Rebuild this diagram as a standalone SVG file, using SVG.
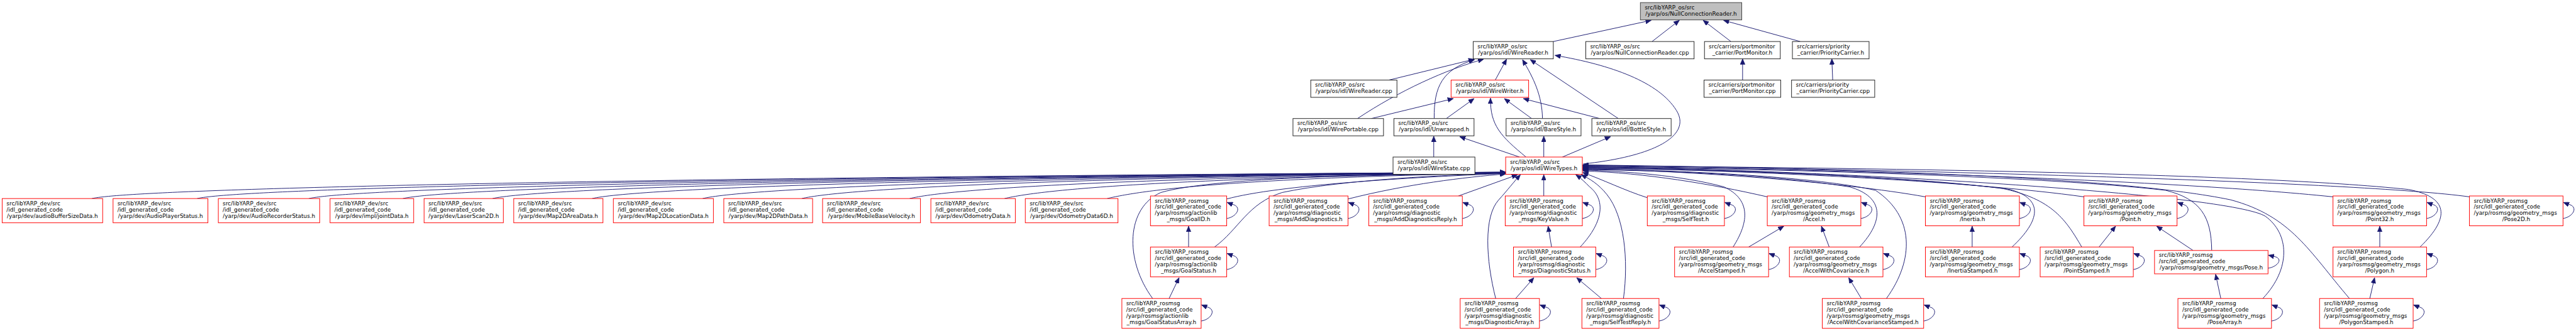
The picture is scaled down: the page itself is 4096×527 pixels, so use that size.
<svg xmlns="http://www.w3.org/2000/svg" width="4096" height="527" viewBox="0 0 4096 527">
<style>
text{font-family:"DejaVu Sans","Liberation Sans",sans-serif;font-size:12.9px;fill:#000}
.m{text-anchor:middle}
.nd rect{fill:#fff;stroke:#202020;stroke-width:1.4}
.rd rect{fill:#fff;stroke:#ff0000;stroke-width:1.4}
.gr rect{fill:#bfbfbf;stroke:#404040;stroke-width:1.4}
.e path{fill:none;stroke:#191970;stroke-width:1.4;marker-end:url(#a)}
</style>
<defs>
<marker id="a" markerUnits="userSpaceOnUse" viewBox="0 0 14 11" markerWidth="14" markerHeight="11" refX="13" refY="5.5" orient="auto"><path d="M0,0 L13,5.5 L0,11 z" fill="#191970" stroke="#191970" stroke-width="1"/></marker>
</defs>
<rect width="4096" height="527" fill="#fff"/>
<g transform="scale(0.68875)">
<g id="edges" class="e">
<!-- top -->
<path d="M3586,96 L3812,47"/>
<path d="M3814,96 L3877,47"/>
<path d="M3996,96 L3932,47"/>
<path d="M4156,96 L3979,47"/>
<path d="M4023,185 L4023,136"/>
<path d="M4231,185 L4229,136"/>
<path d="M3207,185 L3403,137"/>
<path d="M3452,185 L3478,137"/>
<path d="M3134,274 C3230,210 3340,160 3425,137"/>
<path d="M3166,274 L3355,228"/>
<path d="M3311,274 C3310,200 3330,160 3404,138"/>
<path d="M3339,274 L3403,228"/>
<path d="M3523,363 C3465,315 3440,290 3441,227"/>
<path d="M3536,274 L3473,228"/>
<path d="M3561,274 C3560,220 3540,180 3515,138"/>
<path d="M3736,274 L3533,138"/>
<path d="M3693,274 L3517,228"/>
<path d="M3508,363 L3370,316"/>
<path d="M3564,363 L3564,315"/>
<path d="M3607,363 L3718,316"/>
<path d="M3310,363 L3310,315"/>
<path d="M3655,379 C3830,360 3905,310 3870,255 C3830,190 3720,150 3590,128"/>
<!-- dev to WireTypes -->
<path d="M212,459 C302,437 1354,411 3476,398"/>
<path d="M455,459 C545,437 1512,411 3476,398"/>
<path d="M713,459 C803,437 1680,411 3476,398"/>
<path d="M930,459 C1020,437 1821,411 3476,399"/>
<path d="M1137,459 C1227,437 1956,411 3476,399"/>
<path d="M1367,459 C1457,437 2105,411 3476,399"/>
<path d="M1622,459 C1712,437 2271,411 3476,399"/>
<path d="M1851,459 C1941,437 2420,411 3476,399"/>
<path d="M2100,459 C2190,437 2582,411 3476,400"/>
<path d="M2319,459 C2409,437 2724,411 3476,400"/>
<path d="M2556,459 C2646,437 2878,411 3476,400"/>
<!-- rosmsg to WireTypes -->
<path d="M2661,690 C2595,600 2600,480 2680,445 C2800,410 3200,402 3476,399"/>
<path d="M2804,571 C2860,530 2880,470 2960,445 C3100,415 3350,404 3476,400"/>
<path d="M2832,460 C2950,428 3250,410 3476,401"/>
<path d="M3112,460 C3250,425 3380,410 3476,402"/>
<path d="M3367,453 L3503,404"/>
<path d="M3453,690 C3430,600 3425,500 3460,462 C3480,440 3495,420 3510,404"/>
<path d="M3564,453 L3564,404"/>
<path d="M3648,571 C3705,510 3705,460 3670,432 C3660,422 3650,412 3638,404"/>
<path d="M3748,690 C3760,600 3750,500 3710,450 C3690,425 3670,413 3650,404"/>
<path d="M3803,457 C3750,440 3700,415 3654,399"/>
<path d="M4080,455 C3950,425 3800,400 3654,395"/>
<path d="M4001,571 C4040,510 4040,460 3980,432 C3880,405 3750,396 3654,393"/>
<path d="M4293,571 C4350,510 4350,455 4270,432 C4100,405 3850,394 3654,392"/>
<path d="M4355,690 C4420,600 4420,500 4330,440 C4200,410 3900,393 3654,391"/>
<path d="M4445,455 C4250,420 3900,395 3654,390"/>
<path d="M4645,571 C4710,510 4720,460 4640,438 C4400,405 3950,392 3654,389"/>
<path d="M4811,455 C4550,418 4000,392 3654,388"/>
<path d="M4806,571 C4770,510 4740,460 4620,435 C4350,405 3950,390 3654,387"/>
<path d="M5106,579 C5105,500 5080,460 5000,440 C4700,405 4000,388 3654,386"/>
<path d="M5224,690 C5290,620 5285,540 5230,500 C5150,450 4300,395 3654,385"/>
<path d="M5386,455 C5000,415 4200,390 3654,384"/>
<path d="M5587,571 C5660,500 5650,455 5560,438 C5200,400 4300,388 3654,383"/>
<path d="M5424,690 C5330,580 5290,500 5150,462 C4900,410 4300,390 3654,382"/>
<path d="M5701,455 C5450,420 4400,392 3654,381"/>
<!-- rosmsg internal -->
<path d="M2744,571 L2744,523"/>
<path d="M2699,690 L2722,642"/>
<path d="M3582,571 L3574,523"/>
<path d="M3499,690 L3541,642"/>
<path d="M3697,690 L3640,642"/>
<path d="M4037,571 L4118,523"/>
<path d="M4223,571 L4205,523"/>
<path d="M4297,690 L4268,642"/>
<path d="M4553,571 L4553,523"/>
<path d="M4846,571 L4884,523"/>
<path d="M5063,579 L4979,523"/>
<path d="M5127,690 L5115,634"/>
<path d="M5494,571 L5494,523"/>
<path d="M5471,690 L5482,642"/>
<!-- self loops: R,T,h -->
<path d="M2832,505 C2848,503 2862,489 2856,479 C2852,473 2846,473 2833,468"/>
<path d="M2832,623 C2848,621 2862,607 2856,597 C2852,591 2846,591 2833,586"/>
<path d="M2773,742 C2789,740 2803,726 2797,716 C2793,710 2787,710 2774,705"/>
<path d="M3112,505 C3128,503 3142,489 3136,479 C3132,473 3126,473 3113,468"/>
<path d="M3376,505 C3392,503 3406,489 3400,479 C3396,473 3390,473 3377,468"/>
<path d="M3653,505 C3669,503 3683,489 3677,479 C3673,473 3667,473 3654,468"/>
<path d="M3684,623 C3700,621 3714,607 3708,597 C3704,591 3698,591 3685,586"/>
<path d="M3554,742 C3570,740 3584,726 3578,716 C3574,710 3568,710 3555,705"/>
<path d="M3830,742 C3846,740 3860,726 3854,716 C3850,710 3844,710 3831,705"/>
<path d="M3981,505 C3997,503 4011,489 4005,479 C4001,473 3995,473 3982,468"/>
<path d="M4296,505 C4312,503 4326,489 4320,479 C4316,473 4310,473 4297,468"/>
<path d="M4083,623 C4099,621 4113,607 4107,597 C4103,591 4097,591 4084,586"/>
<path d="M4347,623 C4363,621 4377,607 4371,597 C4367,591 4361,591 4348,586"/>
<path d="M4441,742 C4457,740 4471,726 4465,716 C4461,710 4455,710 4442,705"/>
<path d="M4662,505 C4678,503 4692,489 4686,479 C4682,473 4676,473 4663,468"/>
<path d="M4662,623 C4678,621 4692,607 4686,597 C4682,591 4676,591 4663,586"/>
<path d="M5026,505 C5042,503 5056,489 5050,479 C5046,473 5040,473 5027,468"/>
<path d="M4925,623 C4941,621 4955,607 4949,597 C4945,591 4939,591 4926,586"/>
<path d="M5236,620 C5252,618 5266,606 5260,598 C5256,593 5250,593 5237,590"/>
<path d="M5244,742 C5260,740 5274,726 5268,716 C5264,710 5258,710 5245,705"/>
<path d="M5602,505 C5618,503 5632,489 5626,479 C5622,473 5616,473 5603,468"/>
<path d="M5602,623 C5618,621 5632,607 5626,597 C5622,591 5616,591 5603,586"/>
<path d="M5571,742 C5587,740 5601,726 5595,716 C5591,710 5585,710 5572,705"/>
<path d="M5917,505 C5933,503 5947,489 5941,479 C5937,473 5931,473 5918,468"/>
</g>
<!-- top nodes -->
<g id="n_root" class="gr"><rect x="3787" y="6" width="234" height="40"/><text x="3797" y="21.25">src/libYARP_os/src</text><text x="3904" y="35.75" class="m">/yarp/os/NullConnectionReader.h</text></g>
<g id="n_wirereader_h" class="nd"><rect x="3401" y="96" width="185" height="40"/><text x="3411" y="111.25">src/libYARP_os/src</text><text x="3493.5" y="125.75" class="m">/yarp/os/idl/WireReader.h</text></g>
<g id="n_nullconn_cpp" class="nd"><rect x="3661" y="96" width="250" height="40"/><text x="3671" y="111.25">src/libYARP_os/src</text><text x="3786" y="125.75" class="m">/yarp/os/NullConnectionReader.cpp</text></g>
<g id="n_portmonitor_h" class="nd"><rect x="3935" y="96" width="175" height="40"/><text x="3945" y="111.25">src/carriers/portmonitor</text><text x="4022.5" y="125.75" class="m">_carrier/PortMonitor.h</text></g>
<g id="n_priority_h" class="nd"><rect x="4138" y="96" width="177" height="40"/><text x="4148" y="111.25">src/carriers/priority</text><text x="4226.5" y="125.75" class="m">_carrier/PriorityCarrier.h</text></g>
<g id="n_wirereader_cpp" class="nd"><rect x="3026" y="185" width="199" height="40"/><text x="3036" y="200.25">src/libYARP_os/src</text><text x="3125.5" y="214.75" class="m">/yarp/os/idl/WireReader.cpp</text></g>
<g id="n_wirewriter_h" class="rd"><rect x="3350" y="185" width="179" height="40"/><text x="3360" y="200.25">src/libYARP_os/src</text><text x="3439.5" y="214.75" class="m">/yarp/os/idl/WireWriter.h</text></g>
<g id="n_portmonitor_cpp" class="nd"><rect x="3934" y="185" width="177" height="40"/><text x="3944" y="200.25">src/carriers/portmonitor</text><text x="4022.5" y="214.75" class="m">_carrier/PortMonitor.cpp</text></g>
<g id="n_priority_cpp" class="nd"><rect x="4136" y="185" width="192" height="40"/><text x="4146" y="200.25">src/carriers/priority</text><text x="4232" y="214.75" class="m">_carrier/PriorityCarrier.cpp</text></g>
<g id="n_wireportable" class="nd"><rect x="2985" y="274" width="209" height="40"/><text x="2995" y="289.25">src/libYARP_os/src</text><text x="3089.5" y="303.75" class="m">/yarp/os/idl/WirePortable.cpp</text></g>
<g id="n_unwrapped" class="nd"><rect x="3218" y="274" width="185" height="40"/><text x="3228" y="289.25">src/libYARP_os/src</text><text x="3310.5" y="303.75" class="m">/yarp/os/idl/Unwrapped.h</text></g>
<g id="n_barestyle" class="nd"><rect x="3477" y="274" width="173" height="40"/><text x="3487" y="289.25">src/libYARP_os/src</text><text x="3563.5" y="303.75" class="m">/yarp/os/idl/BareStyle.h</text></g>
<g id="n_bottlestyle" class="nd"><rect x="3675" y="274" width="183" height="40"/><text x="3685" y="289.25">src/libYARP_os/src</text><text x="3766.5" y="303.75" class="m">/yarp/os/idl/BottleStyle.h</text></g>
<g id="n_wirestate" class="nd"><rect x="3216" y="363" width="189" height="40"/><text x="3226" y="378.25">src/libYARP_os/src</text><text x="3310.5" y="392.75" class="m">/yarp/os/idl/WireState.cpp</text></g>
<g id="n_wiretypes" class="rd"><rect x="3476" y="363" width="177" height="40"/><text x="3486" y="378.25">src/libYARP_os/src</text><text x="3564.5" y="392.75" class="m">/yarp/os/idl/WireTypes.h</text></g>
<!-- dev nodes -->
<g id="n_dev1" class="rd"><rect x="5" y="459" width="232" height="56"/><text x="15" y="475">src/libYARP_dev/src</text><text x="15" y="489.5">/idl_generated_code</text><text x="121" y="504" class="m">/yarp/dev/audioBufferSizeData.h</text></g>
<g id="n_dev2" class="rd"><rect x="261" y="459" width="219" height="56"/><text x="271" y="475">src/libYARP_dev/src</text><text x="271" y="489.5">/idl_generated_code</text><text x="370.5" y="504" class="m">/yarp/dev/AudioPlayerStatus.h</text></g>
<g id="n_dev3" class="rd"><rect x="504" y="459" width="234" height="56"/><text x="514" y="475">src/libYARP_dev/src</text><text x="514" y="489.5">/idl_generated_code</text><text x="621" y="504" class="m">/yarp/dev/AudioRecorderStatus.h</text></g>
<g id="n_dev4" class="rd"><rect x="762" y="459" width="193" height="56"/><text x="772" y="475">src/libYARP_dev/src</text><text x="772" y="489.5">/idl_generated_code</text><text x="858.5" y="504" class="m">/yarp/dev/impl/jointData.h</text></g>
<g id="n_dev5" class="rd"><rect x="979" y="459" width="183" height="56"/><text x="989" y="475">src/libYARP_dev/src</text><text x="989" y="489.5">/idl_generated_code</text><text x="1070.5" y="504" class="m">/yarp/dev/LaserScan2D.h</text></g>
<g id="n_dev6" class="rd"><rect x="1186" y="459" width="206" height="56"/><text x="1196" y="475">src/libYARP_dev/src</text><text x="1196" y="489.5">/idl_generated_code</text><text x="1289" y="504" class="m">/yarp/dev/Map2DAreaData.h</text></g>
<g id="n_dev7" class="rd"><rect x="1416" y="459" width="231" height="56"/><text x="1426" y="475">src/libYARP_dev/src</text><text x="1426" y="489.5">/idl_generated_code</text><text x="1531.5" y="504" class="m">/yarp/dev/Map2DLocationData.h</text></g>
<g id="n_dev8" class="rd"><rect x="1671" y="459" width="205" height="56"/><text x="1681" y="475">src/libYARP_dev/src</text><text x="1681" y="489.5">/idl_generated_code</text><text x="1773.5" y="504" class="m">/yarp/dev/Map2DPathData.h</text></g>
<g id="n_dev9" class="rd"><rect x="1899" y="459" width="226" height="56"/><text x="1909" y="475">src/libYARP_dev/src</text><text x="1909" y="489.5">/idl_generated_code</text><text x="2012" y="504" class="m">/yarp/dev/MobileBaseVelocity.h</text></g>
<g id="n_dev10" class="rd"><rect x="2149" y="459" width="195" height="56"/><text x="2159" y="475">src/libYARP_dev/src</text><text x="2159" y="489.5">/idl_generated_code</text><text x="2246.5" y="504" class="m">/yarp/dev/OdometryData.h</text></g>
<g id="n_dev11" class="rd"><rect x="2367" y="459" width="214" height="56"/><text x="2377" y="475">src/libYARP_dev/src</text><text x="2377" y="489.5">/idl_generated_code</text><text x="2474" y="504" class="m">/yarp/dev/OdometryData6D.h</text></g>
<!-- rosmsg row 6 -->
<g id="n_goalid" class="rd"><rect x="2656" y="453" width="176" height="69"/><text x="2666" y="468.25">src/libYARP_rosmsg</text><text x="2666" y="482.75">/src/idl_generated_code</text><text x="2666" y="497.25">/yarp/rosmsg/actionlib</text><text x="2744" y="511.75" class="m">_msgs/GoalID.h</text></g>
<g id="n_adddiag" class="rd"><rect x="2930" y="453" width="182" height="69"/><text x="2940" y="468.25">src/libYARP_rosmsg</text><text x="2940" y="482.75">/src/idl_generated_code</text><text x="2940" y="497.25">/yarp/rosmsg/diagnostic</text><text x="3021" y="511.75" class="m">_msgs/AddDiagnostics.h</text></g>
<g id="n_adddiagreply" class="rd"><rect x="3160" y="453" width="216" height="69"/><text x="3170" y="468.25">src/libYARP_rosmsg</text><text x="3170" y="482.75">/src/idl_generated_code</text><text x="3170" y="497.25">/yarp/rosmsg/diagnostic</text><text x="3268" y="511.75" class="m">_msgs/AddDiagnosticsReply.h</text></g>
<g id="n_keyvalue" class="rd"><rect x="3475" y="453" width="178" height="69"/><text x="3485" y="468.25">src/libYARP_rosmsg</text><text x="3485" y="482.75">/src/idl_generated_code</text><text x="3485" y="497.25">/yarp/rosmsg/diagnostic</text><text x="3564" y="511.75" class="m">_msgs/KeyValue.h</text></g>
<g id="n_selftest" class="rd"><rect x="3803" y="453" width="178" height="69"/><text x="3813" y="468.25">src/libYARP_rosmsg</text><text x="3813" y="482.75">/src/idl_generated_code</text><text x="3813" y="497.25">/yarp/rosmsg/diagnostic</text><text x="3892" y="511.75" class="m">_msgs/SelfTest.h</text></g>
<g id="n_accel" class="rd"><rect x="4080" y="453" width="216" height="69"/><text x="4090" y="468.25">src/libYARP_rosmsg</text><text x="4090" y="482.75">/src/idl_generated_code</text><text x="4090" y="497.25">/yarp/rosmsg/geometry_msgs</text><text x="4188" y="511.75" class="m">/Accel.h</text></g>
<g id="n_inertia" class="rd"><rect x="4445" y="453" width="217" height="69"/><text x="4455" y="468.25">src/libYARP_rosmsg</text><text x="4455" y="482.75">/src/idl_generated_code</text><text x="4455" y="497.25">/yarp/rosmsg/geometry_msgs</text><text x="4553.5" y="511.75" class="m">/Inertia.h</text></g>
<g id="n_point" class="rd"><rect x="4811" y="453" width="215" height="69"/><text x="4821" y="468.25">src/libYARP_rosmsg</text><text x="4821" y="482.75">/src/idl_generated_code</text><text x="4821" y="497.25">/yarp/rosmsg/geometry_msgs</text><text x="4918.5" y="511.75" class="m">/Point.h</text></g>
<g id="n_point32" class="rd"><rect x="5386" y="453" width="216" height="69"/><text x="5396" y="468.25">src/libYARP_rosmsg</text><text x="5396" y="482.75">/src/idl_generated_code</text><text x="5396" y="497.25">/yarp/rosmsg/geometry_msgs</text><text x="5494" y="511.75" class="m">/Point32.h</text></g>
<g id="n_pose2d" class="rd"><rect x="5701" y="453" width="216" height="69"/><text x="5711" y="468.25">src/libYARP_rosmsg</text><text x="5711" y="482.75">/src/idl_generated_code</text><text x="5711" y="497.25">/yarp/rosmsg/geometry_msgs</text><text x="5809" y="511.75" class="m">/Pose2D.h</text></g>
<!-- rosmsg row 7 -->
<g id="n_goalstatus" class="rd"><rect x="2656" y="571" width="176" height="69"/><text x="2666" y="586.25">src/libYARP_rosmsg</text><text x="2666" y="600.75">/src/idl_generated_code</text><text x="2666" y="615.25">/yarp/rosmsg/actionlib</text><text x="2744" y="629.75" class="m">_msgs/GoalStatus.h</text></g>
<g id="n_diagstatus" class="rd"><rect x="3494" y="571" width="190" height="69"/><text x="3504" y="586.25">src/libYARP_rosmsg</text><text x="3504" y="600.75">/src/idl_generated_code</text><text x="3504" y="615.25">/yarp/rosmsg/diagnostic</text><text x="3589" y="629.75" class="m">_msgs/DiagnosticStatus.h</text></g>
<g id="n_accelstamped" class="rd"><rect x="3866" y="571" width="217" height="69"/><text x="3876" y="586.25">src/libYARP_rosmsg</text><text x="3876" y="600.75">/src/idl_generated_code</text><text x="3876" y="615.25">/yarp/rosmsg/geometry_msgs</text><text x="3974.5" y="629.75" class="m">/AccelStamped.h</text></g>
<g id="n_accelcov" class="rd"><rect x="4131" y="571" width="216" height="69"/><text x="4141" y="586.25">src/libYARP_rosmsg</text><text x="4141" y="600.75">/src/idl_generated_code</text><text x="4141" y="615.25">/yarp/rosmsg/geometry_msgs</text><text x="4239" y="629.75" class="m">/AccelWithCovariance.h</text></g>
<g id="n_inertiastamped" class="rd"><rect x="4445" y="571" width="217" height="69"/><text x="4455" y="586.25">src/libYARP_rosmsg</text><text x="4455" y="600.75">/src/idl_generated_code</text><text x="4455" y="615.25">/yarp/rosmsg/geometry_msgs</text><text x="4553.5" y="629.75" class="m">/InertiaStamped.h</text></g>
<g id="n_pointstamped" class="rd"><rect x="4710" y="571" width="215" height="69"/><text x="4720" y="586.25">src/libYARP_rosmsg</text><text x="4720" y="600.75">/src/idl_generated_code</text><text x="4720" y="615.25">/yarp/rosmsg/geometry_msgs</text><text x="4817.5" y="629.75" class="m">/PointStamped.h</text></g>
<g id="n_pose" class="rd"><rect x="4974" y="579" width="262" height="54"/><text x="4984" y="594">src/libYARP_rosmsg</text><text x="4984" y="608.5">/src/idl_generated_code</text><text x="5105" y="623" class="m">/yarp/rosmsg/geometry_msgs/Pose.h</text></g>
<g id="n_polygon" class="rd"><rect x="5386" y="571" width="216" height="69"/><text x="5396" y="586.25">src/libYARP_rosmsg</text><text x="5396" y="600.75">/src/idl_generated_code</text><text x="5396" y="615.25">/yarp/rosmsg/geometry_msgs</text><text x="5494" y="629.75" class="m">/Polygon.h</text></g>
<!-- rosmsg row 8 -->
<g id="n_goalstatusarray" class="rd"><rect x="2590" y="690" width="183" height="69"/><text x="2600" y="705.25">src/libYARP_rosmsg</text><text x="2600" y="719.75">/src/idl_generated_code</text><text x="2600" y="734.25">/yarp/rosmsg/actionlib</text><text x="2681.5" y="748.75" class="m">_msgs/GoalStatusArray.h</text></g>
<g id="n_diagarray" class="rd"><rect x="3371" y="690" width="183" height="69"/><text x="3381" y="705.25">src/libYARP_rosmsg</text><text x="3381" y="719.75">/src/idl_generated_code</text><text x="3381" y="734.25">/yarp/rosmsg/diagnostic</text><text x="3462.5" y="748.75" class="m">_msgs/DiagnosticArray.h</text></g>
<g id="n_selftestreply" class="rd"><rect x="3652" y="690" width="178" height="69"/><text x="3662" y="705.25">src/libYARP_rosmsg</text><text x="3662" y="719.75">/src/idl_generated_code</text><text x="3662" y="734.25">/yarp/rosmsg/diagnostic</text><text x="3741" y="748.75" class="m">_msgs/SelfTestReply.h</text></g>
<g id="n_accelcovstamped" class="rd"><rect x="4207" y="690" width="234" height="69"/><text x="4217" y="705.25">src/libYARP_rosmsg</text><text x="4217" y="719.75">/src/idl_generated_code</text><text x="4217" y="734.25">/yarp/rosmsg/geometry_msgs</text><text x="4324" y="748.75" class="m">/AccelWithCovarianceStamped.h</text></g>
<g id="n_posearray" class="rd"><rect x="5028" y="690" width="216" height="69"/><text x="5038" y="705.25">src/libYARP_rosmsg</text><text x="5038" y="719.75">/src/idl_generated_code</text><text x="5038" y="734.25">/yarp/rosmsg/geometry_msgs</text><text x="5136" y="748.75" class="m">/PoseArray.h</text></g>
<g id="n_polygonstamped" class="rd"><rect x="5355" y="690" width="216" height="69"/><text x="5365" y="705.25">src/libYARP_rosmsg</text><text x="5365" y="719.75">/src/idl_generated_code</text><text x="5365" y="734.25">/yarp/rosmsg/geometry_msgs</text><text x="5463" y="748.75" class="m">/PolygonStamped.h</text></g>
</g>
</svg>
